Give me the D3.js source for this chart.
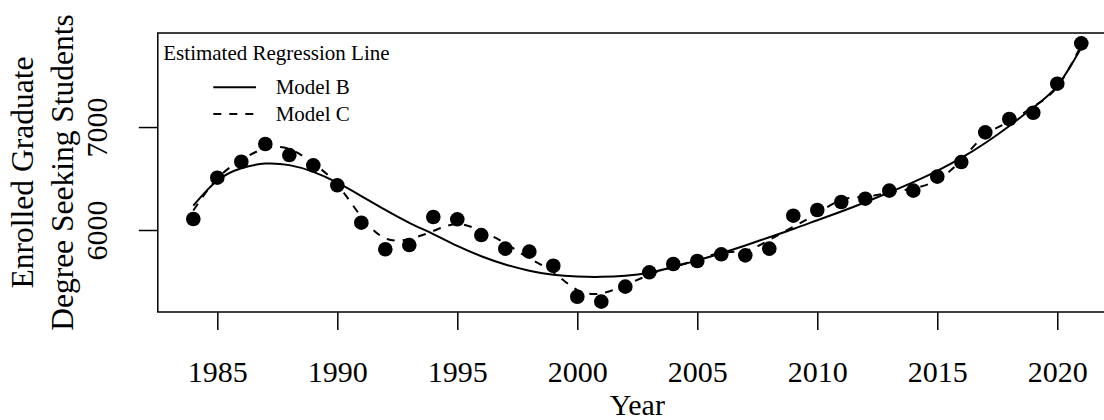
<!DOCTYPE html>
<html>
<head>
<meta charset="utf-8">
<script src="https://cdn.jsdelivr.net/npm/d3@7"></script>
<style>
  body { margin: 0; background: #fff; }
  svg { display: block; font-family: "Liberation Serif", "Times New Roman", serif; }
</style>
</head>
<body>
<script>
// observed enrolment per year
var years = d3.range(1984, 2022)
var enrolled = [6107, 6508, 6663, 6835, 6728, 6628, 6434, 6071, 5813, 5854,
    6126, 6104, 5951, 5819, 5790, 5653, 5352, 5304, 5450, 5589,
    5670, 5699, 5764, 5754, 5819, 6139, 6194, 6272, 6304, 6382,
    6382, 6518, 6660, 6948, 7078, 7139, 7421, 7813]

// fitted lines (one value per year)
var modelB = [6236, 6480, 6600, 6645, 6630, 6565, 6460, 6330, 6195, 6070,
    5960, 5845, 5745, 5665, 5605, 5565, 5548, 5545, 5555, 5585,
    5640, 5705, 5775, 5850, 5930, 6010, 6095, 6180, 6270, 6365,
    6465, 6575, 6700, 6845, 7010, 7190, 7400, 7770]
var modelC = [6190, 6500, 6680, 6793, 6787, 6647, 6440, 6129, 5919, 5913,
    5990, 6058, 5990, 5871, 5725, 5590, 5417, 5385, 5466, 5563,
    5644, 5709, 5780, 5799, 5903, 6032, 6162, 6291, 6324, 6362,
    6405, 6485, 6680, 6922, 7051, 7197, 7391, 7796]

var xTicks = [1985, 1990, 1995, 2000, 2005, 2010, 2015, 2020]
var yTicks = [6000, 7000]

var legendLabels = ["Model B", "Model C"]
var legendDash = [null, "8,8"]

var W = 1104, H = 420
var pLeft = 157.8, pRight = 1116.8, pTop = 33, pBottom = 312

// R style 4% padding on both axes
var xr = d3.extent(years), yr = d3.extent(enrolled)
var xp = (xr[1] - xr[0]) * 0.04, yp = (yr[1] - yr[0]) * 0.04
var x = d3.scaleLinear().domain([xr[0] - xp, xr[1] + xp]).range([pLeft, pRight])
var y = d3.scaleLinear().domain([yr[0] - yp, yr[1] + yp]).range([pBottom, pTop])

svg = d3.select("body").append("svg").attr("width", W).attr("height", H)

// x axis
xAxis = svg.append("g").attr("transform", "translate(0," + pBottom + ")")
    .call(d3.axisBottom(x).tickValues(xTicks).tickSize(18).tickFormat(d3.format("d")))
xAxis.select(".domain").remove()
xAxis.selectAll("line").attr("stroke", "#000").attr("stroke-width", 1.5)
xAxis.selectAll("text").attr("y", 70).attr("dy", 0)
    .attr("font-size", 30).attr("fill", "#000").attr("font-family", "Liberation Serif")

// y axis
yAxis = svg.append("g").attr("transform", "translate(" + pLeft + ",0)")
    .call(d3.axisLeft(y).tickValues(yTicks).tickSize(19).tickFormat(d3.format("d")))
yAxis.select(".domain").remove()
yAxis.selectAll("line").attr("stroke", "#000").attr("stroke-width", 1.5)
yAxis.selectAll("text").attr("x", 0).attr("dy", 0)
    .attr("transform", "translate(-51,0) rotate(-90)")
    .attr("text-anchor", "middle")
    .attr("font-size", 30).attr("fill", "#000").attr("font-family", "Liberation Serif")

// box
svg.append("rect").attr("x", pLeft).attr("y", pTop)
    .attr("width", pRight - pLeft).attr("height", pBottom - pTop)
    .attr("fill", "none").attr("stroke", "#000").attr("stroke-width", 1.5)

// axis titles
svg.append("text").attr("x", (pLeft + pRight) / 2).attr("y", 415)
    .attr("text-anchor", "middle").attr("font-size", 30).text("Year")

var midY = (pTop + pBottom) / 2
svg.append("text").attr("transform", "translate(33," + midY + ") rotate(-90)")
    .attr("text-anchor", "middle").attr("font-size", 31.5).text("Enrolled Graduate")
svg.append("text").attr("transform", "translate(73," + midY + ") rotate(-90)")
    .attr("text-anchor", "middle").attr("font-size", 31.5).text("Degree Seeking Students")

// fitted lines
var line = d3.line().curve(d3.curveNatural).x(d => x(d[0])).y(d => y(d[1]))
svg.append("path").datum(d3.zip(years, modelB)).attr("d", line)
    .attr("fill", "none").attr("stroke", "#000").attr("stroke-width", 2)
svg.append("path").datum(d3.zip(years, modelC)).attr("d", line)
    .attr("fill", "none").attr("stroke", "#000").attr("stroke-width", 2)
    .attr("stroke-dasharray", "8,8")

// points
svg.selectAll("circle.pt").data(d3.zip(years, enrolled)).enter()
    .append("circle").classed("pt", true)
    .attr("cx", d => x(d[0])).attr("cy", d => y(d[1])).attr("r", 7.3)
    .attr("fill", "#000")

// legend
legend = svg.append("g")
legend.append("text").attr("x", 163.3).attr("y", 60).attr("font-size", 21)
    .text("Estimated Regression Line")
items = legend.selectAll("g.item").data(legendLabels).enter().append("g").classed("item", true)
    .attr("transform", (d, i) => "translate(0," + (87.3 + i * 26.7) + ")")
items.append("line").attr("x1", 213.3).attr("x2", 256).attr("y1", 0).attr("y2", 0)
    .attr("stroke", "#000").attr("stroke-width", 2)
    .attr("stroke-dasharray", (d, i) => legendDash[i])
items.append("text").attr("x", 275.7).attr("y", 6.7).attr("font-size", 21).text(d => d)
</script>
</body>
</html>
